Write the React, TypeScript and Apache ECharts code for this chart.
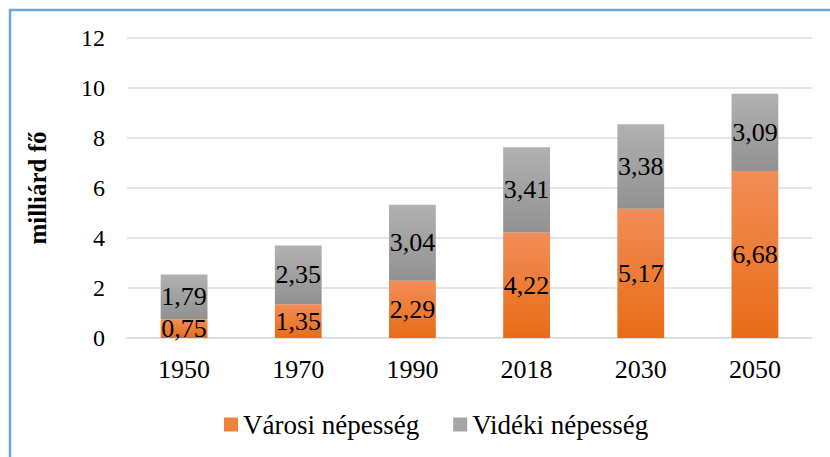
import React, { useEffect, useRef } from "react";
import * as echarts from "echarts";

const categories = ["1950", "1970", "1990", "2018", "2030", "2050"];
const urban = [0.75, 1.35, 2.29, 4.22, 5.17, 6.68];
const rural = [1.79, 2.35, 3.04, 3.41, 3.38, 3.09];
const seriesNames = ["Városi népesség", "Vidéki népesség"];
const yAxisName = "milliárd fő";

const FONT = "'Liberation Serif', 'Times New Roman', serif";

export default function App() {
  const ref = useRef<HTMLDivElement>(null);
  useEffect(() => {
    if (!ref.current) return;
    const chart = echarts.init(ref.current, null, { renderer: "svg" });
    const fmt = (p: any) => String(p.value.toFixed(2)).replace(".", ",");
    const orange = new echarts.graphic.LinearGradient(0, 0, 0, 1, [
      { offset: 0, color: "#F28D58" },
      { offset: 1, color: "#E86C17" },
    ]);
    const gray = new echarts.graphic.LinearGradient(0, 0, 0, 1, [
      { offset: 0, color: "#B1B1B1" },
      { offset: 1, color: "#919191" },
    ]);
    chart.setOption({
      animation: false,
      backgroundColor: "#ffffff",
      textStyle: { fontFamily: FONT },
      grid: { left: 127, right: 18, top: 38, bottom: 119 },
      legend: {
        bottom: 14,
        left: 219,
        itemWidth: 14,
        itemHeight: 14,
        itemGap: 34,
        icon: "rect",
        textStyle: { fontFamily: FONT, fontSize: 27, color: "#000" },
        data: [
          { name: seriesNames[0], itemStyle: { color: "#F0803A" } },
          { name: seriesNames[1], itemStyle: { color: "#A6A6A6" } },
        ],
      },
      xAxis: {
        type: "category",
        data: categories,
        axisLine: { show: true, lineStyle: { color: "#D9DEE6", width: 1.5 } },
        axisTick: { show: false },
        axisLabel: { fontFamily: FONT, fontSize: 26, color: "#000", margin: 18 },
      },
      yAxis: {
        type: "value",
        min: 0,
        max: 12,
        interval: 2,
        name: yAxisName,
        nameLocation: "middle",
        nameGap: 77,
        nameTextStyle: { fontFamily: FONT, fontSize: 25, fontWeight: "bold", color: "#000" },
        axisLine: { show: false },
        axisTick: { show: false },
        axisLabel: { fontFamily: FONT, fontSize: 24, color: "#000", margin: 22 },
        splitLine: { lineStyle: { color: "#D9DEE6", width: 1.5 } },
      },
      series: [
        {
          name: seriesNames[0],
          type: "bar",
          stack: "total",
          barWidth: "41%",
          data: urban,
          itemStyle: { color: orange },
          label: { show: true, position: "inside", formatter: fmt, fontFamily: FONT, fontSize: 26, color: "#000" },
        },
        {
          name: seriesNames[1],
          type: "bar",
          stack: "total",
          barWidth: "41%",
          data: rural,
          itemStyle: { color: gray },
          label: { show: true, position: "inside", formatter: fmt, fontFamily: FONT, fontSize: 26, color: "#000" },
        },
      ],
      graphic: [
        { type: "line", shape: { x1: 10, y1: 9, x2: 10, y2: 457 }, style: { stroke: "#6AA6E0", lineWidth: 2.5 } },
        { type: "line", shape: { x1: 9, y1: 10, x2: 830, y2: 10 }, style: { stroke: "#6AA6E0", lineWidth: 2.5 } },
      ],
    });
    return () => chart.dispose();
  }, []);
  return <div ref={ref} style={{ position: "absolute", left: 0, top: 0, width: 830, height: 457 }} />;
}
